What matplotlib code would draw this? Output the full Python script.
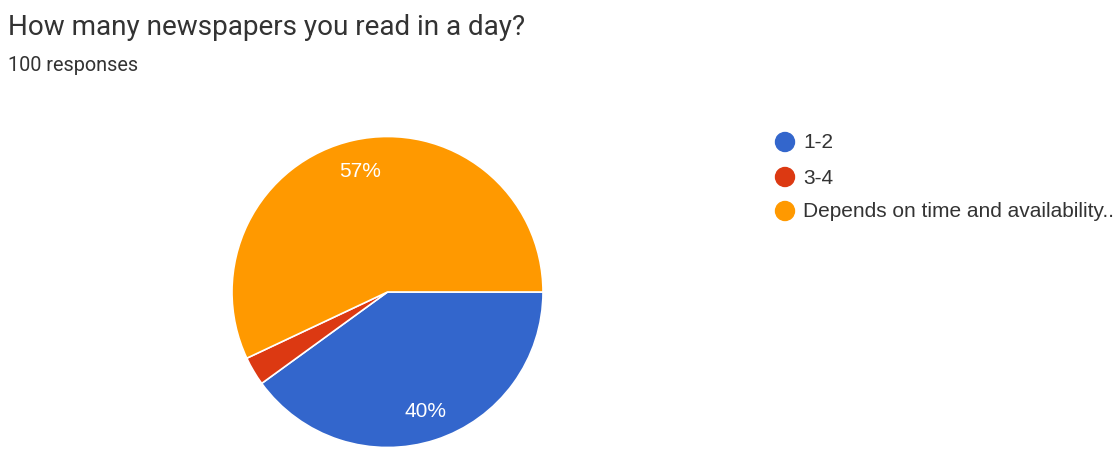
import matplotlib
matplotlib.use("Agg")
import matplotlib.pyplot as plt
from matplotlib.patches import Circle

title = "How many newspapers you read in a day?"
subtitle = "100 responses"
categories = ["1-2", "3-4", "Depends on time and availability.."]
values = [40, 3, 57]
colors = ["#3366cc", "#dc3912", "#ff9900"]

W, H = 1119, 452
fig = plt.figure(figsize=(W / 100, H / 100), dpi=100)
ax = fig.add_axes([0, 0, 1, 1])
ax.set_xlim(0, W)
ax.set_ylim(0, H)
ax.set_aspect("equal")
ax.axis("off")

cx, cy, r = 387.5, H - 293, 155.5

def fmt(p):
    return f"{p:.0f}%" if p >= 5 else ""

wedges, texts, autotexts = ax.pie(
    values, colors=colors, center=(cx, cy), radius=r,
    startangle=0, counterclock=False, autopct=fmt, pctdistance=0.8,
    wedgeprops=dict(edgecolor="white", linewidth=1.2),
    textprops=dict(color="white", fontsize=15, family="Liberation Sans"),
)
ax.set_xlim(0, W)
ax.set_ylim(0, H)
ax.axis("off")

fig.text(8 / W, 1 - 35 / H, title, fontsize=20.1, family="Roboto",
         color="#333333", va="baseline", ha="left")
fig.text(8 / W, 1 - 71 / H, subtitle, fontsize=14.3, family="Roboto",
         color="#333333", va="baseline", ha="left")

ys = [143, 178, 212]
for lab, col, y in zip(categories, colors, ys):
    ax.add_patch(Circle((785, H - y), 9.5, color=col, clip_on=False))
    ax.text(803, H - y, lab, fontsize=15, family="Liberation Sans", color="#333333",
            va="center", ha="left")

fig.savefig("out.png", dpi=100, facecolor="white")
